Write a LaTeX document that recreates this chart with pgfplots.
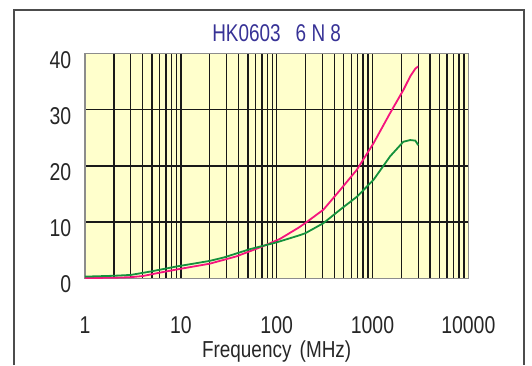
\documentclass[border=0pt]{standalone}
\usepackage{pgfplots}
\pgfplotsset{compat=1.18}
\usepackage{fontspec}
\setmainfont{Liberation Sans}
\definecolor{bgy}{RGB}{255,255,204}
\definecolor{qpink}{RGB}{245,20,125}
\definecolor{qgreen}{RGB}{20,145,60}
\definecolor{titleblue}{RGB}{55,50,150}
\begin{document}
\begin{tikzpicture}[x=1bp,y=1bp]
\path[use as bounding box] (0,0) rectangle (532,365);
\draw[line width=2bp, black!70] (14,0) -- (14,355) -- (524,355) -- (524,0);
\begin{axis}[
  at={(85bp,86.7bp)}, anchor=south west,
  scale only axis, width=383.3bp, height=224.8bp,
  xmode=log, xmin=1, xmax=10000, ymin=0, ymax=40,
  /pgf/number format/assume math mode=true,
  xtick={1,10,100,1000,10000},
  xticklabels={1,10,100,1000,10000},
  ytick={0,10,20,30,40},
  yticklabels={0,10,20,30,40},
  grid=both,
  major grid style={black!90, line width=1.4bp},
  minor grid style={black!90, line width=1.4bp},
  major tick length=0pt, minor tick length=0pt,
  axis line style={black!45, line width=1.2bp},
  axis background/.style={fill=bgy},
  tick label style={font=\fontsize{19.5}{19.5}\selectfont, text=black!85, yscale=1.25, inner sep=0pt},
  xticklabel style={anchor=center, yshift=-37.7bp},
  yticklabel style={anchor=east, xshift=-13.5bp, yshift=-5bp},
  title={HK0603\hspace{15bp}6 N 8},
  title style={at={(axis description cs:0.5,1)}, anchor=center, yshift=14bp, font=\fontsize{19}{19}\selectfont, text=titleblue, yscale=1.28, inner sep=0pt},
  xlabel={Frequency\hspace{3bp} (MHz)},
  xlabel style={at={(axis description cs:0.5,0)}, anchor=center, yshift=-73bp, font=\fontsize{19}{19}\selectfont, text=black!85, yscale=1.22, inner sep=0pt},
  clip=false,
]
\addplot[qpink, line width=1.8bp] coordinates {
(1,0.05) (2,0.1) (3,0.2) (4,0.4) (6,1.0) (10,1.7) (20,2.6) (38,3.9) (72,5.7) (108,7.0) (169,9.0) (198,9.8) (307,12.2) (459,15.7) (686,19.3) (1023,24.0) (1527,29.4) (2100,33.5) (2470,35.9) (2800,37.3) (2990,37.7)
};
\addplot[qgreen, line width=1.8bp] coordinates {
(1,0.3) (2,0.45) (3,0.6) (4.8,1.2) (9,2.1) (14.6,2.7) (20,3.1) (28,3.7) (53,5.2) (100,6.4) (169,7.6) (198,8.0) (307,9.8) (459,12.2) (686,14.5) (1023,17.5) (1527,21.7) (2100,24.3) (2470,24.6) (2800,24.5) (3000,23.7)
};
\end{axis}
\end{tikzpicture}
\end{document}
